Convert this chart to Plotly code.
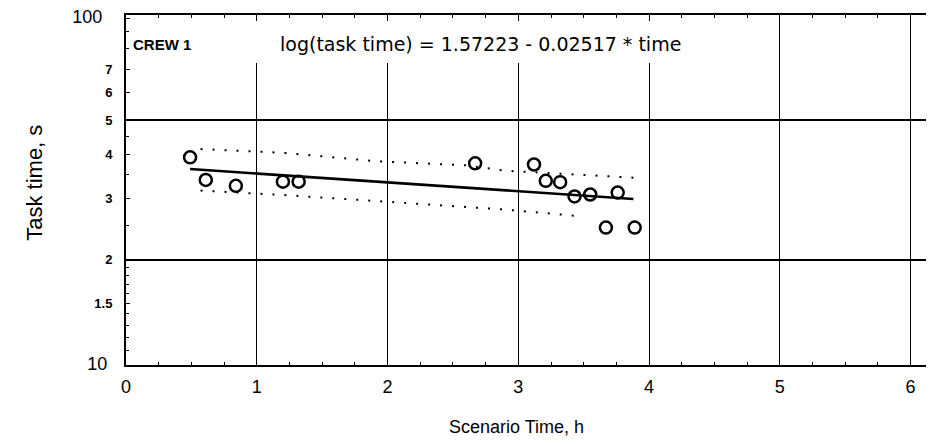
import plotly.graph_objects as go

# scenario time (h) and task time (s) of the crew 1 observations
time_h = [0.49, 0.61, 0.84, 1.20, 1.32, 2.67, 3.12, 3.21, 3.32, 3.43, 3.55, 3.76, 3.67, 3.89]
task_s = [39.2, 33.8, 32.5, 33.4, 33.4, 37.7, 37.4, 33.6, 33.3, 30.3, 30.7, 31.1, 24.7, 24.7]

# fitted line log(task time) = 1.57223 - 0.02517 * time, end points
fit_x = [0.49, 3.88]
fit_y = [36.3, 29.8]

# dotted bands around the fit
upper_x = [0.57, 1.20, 1.92, 2.60, 2.90, 3.88]
upper_y = [41.4, 40.4, 38.2, 37.2, 35.9, 34.3]
lower_x = [0.57, 1.20, 1.92, 2.90, 3.43]
lower_y = [31.5, 30.6, 29.4, 27.8, 26.7]

x_ticks = [0, 1, 2, 3, 4, 5, 6]
# top label sits a hair under the frame so it is not clipped
y_ticks = [10, 15, 20, 30, 40, 50, 60, 70, 98]
y_text = ['<span style="font-size:18px">10\u00a0</span>', '<b>1.5</b>', '<b>2</b>',
          '<b>3</b>', '<b>4</b>', '<b>5</b>', '<b>6</b>', '<b>7</b>',
          '<span style="font-size:18px">100\u00a0\u00a0</span>']
y_minor = [11, 12, 13, 14, 16, 17, 18, 19, 25, 35, 45, 80, 90]
y_grid = [20, 50]

font = 'Liberation Sans, Arial, sans-serif'
band = dict(color='black', width=2, dash='2px,10px')
y_range = [0.9999, 2.0001]

fig = go.Figure()
fig.add_trace(go.Scatter(x=upper_x, y=upper_y, mode='lines', line=band))
fig.add_trace(go.Scatter(x=lower_x, y=lower_y, mode='lines', line=band))
fig.add_trace(go.Scatter(x=fit_x, y=fit_y, mode='lines',
                         line=dict(color='black', width=2.6)))
fig.add_trace(go.Scatter(x=time_h, y=task_s, mode='markers',
                         marker=dict(symbol='circle-open', size=12, color='black',
                                     line=dict(color='black', width=2.5))))
# extra axis only to draw the two horizontal grid lines
fig.add_trace(go.Scatter(x=[None], y=[None], yaxis='y2', showlegend=False))

fig.update_layout(
    width=934, height=445,
    margin=dict(l=118, r=0, t=7, b=88),
    paper_bgcolor='white', plot_bgcolor='white',
    showlegend=False,
    font=dict(family=font, color='black', size=16),
    xaxis=dict(range=[0, 6.24], tickvals=x_ticks, ticks='inside', ticklen=7,
               tickwidth=1, tickcolor='black', showline=True, linewidth=2,
               linecolor='black', mirror='ticks', showgrid=True,
               gridcolor='black', gridwidth=1, zeroline=False,
               tickfont=dict(size=18), ticklabelstandoff=4, automargin=False,
               minor=dict(dtick=0.25, ticks='inside', ticklen=3,
                          tickcolor='black', showgrid=False)),
    yaxis=dict(type='log', range=y_range, tickvals=y_ticks, ticktext=y_text,
               ticks='inside', ticklen=4, tickcolor='black', showline=True,
               linewidth=2, linecolor='black', showgrid=False, zeroline=False,
               tickfont=dict(size=13), ticklabelstandoff=9,
               ticklabeloverflow='allow', automargin=False,
               minor=dict(tickvals=y_minor, ticks='inside', ticklen=3,
                          tickcolor='black', showgrid=False)),
    yaxis2=dict(type='log', range=y_range, overlaying='y', tickvals=y_grid,
                showticklabels=False, ticks='', showgrid=True,
                gridcolor='black', gridwidth=1.6, zeroline=False,
                showline=False, automargin=False),
    shapes=[dict(type='rect', xref='paper', yref='paper', layer='above',
                 x0=0.0074, x1=0.705, y0=0.863, y1=0.983,
                 fillcolor='white', line=dict(width=0))],
    annotations=[
        dict(text='<b>CREW 1</b>', xref='paper', yref='paper', x=0.006, y=0.917,
             xanchor='left', yanchor='middle', showarrow=False,
             font=dict(size=15)),
        dict(text='log(task time) = 1.57223 - 0.02517 * time', xref='paper',
             yref='paper', x=0.186, y=0.917, xanchor='left', yanchor='middle',
             showarrow=False, font=dict(family='DejaVu Sans', size=19)),
        dict(text='Task time, s', xref='paper', yref='paper', x=-0.113,
             y=0.52, xanchor='center', yanchor='middle', textangle=-90,
             showarrow=False, font=dict(size=22)),
        dict(text='Scenario Time, h', xref='paper', yref='paper', x=0.478,
             y=-0.177, xanchor='center', yanchor='middle', showarrow=False,
             font=dict(size=18)),
    ],
)

fig.write_html("out.html")
